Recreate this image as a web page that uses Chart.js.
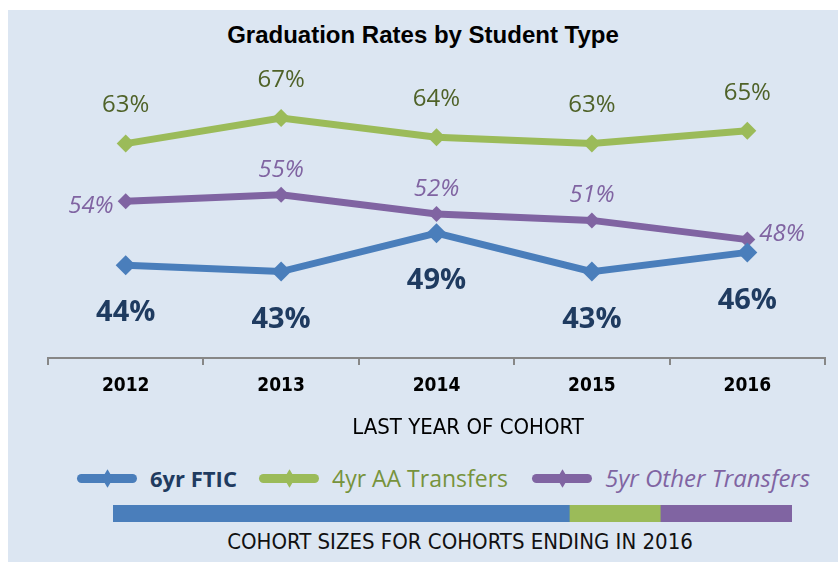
<!DOCTYPE html>
<html>
<head>
<meta charset="utf-8">
<script src="https://cdn.jsdelivr.net/npm/chart.js@4.4.1/dist/chart.umd.min.js"></script>
<style>
  body { margin: 0; width: 838px; height: 562px; background: #ffffff; overflow: hidden; position: relative; }
  #bg { position: absolute; left: 8px; top: 10px; right: 0; bottom: 0; background: #dce6f2; }
  #title { position: absolute; left: 0; width: 846px; top: 21px; line-height: 28px; text-align: center;
    font: bold 24px "Liberation Sans", Arial, sans-serif; color: #000; }
  #lines { position: absolute; left: 0; top: 0; }
  #xtitle { position: absolute; left: 268px; width: 400px; top: 414px; line-height: 26px; text-align: center;
    font: 22px "Liberation Sans Narrow", "DejaVu Sans Condensed", sans-serif; color: #000; }
  .item { position: absolute; top: 465px; height: 26px; }
  .swatch { position: absolute; top: 8.5px; width: 60px; height: 9px; border-radius: 5px; }
  .swatch::after { content: ""; position: absolute; left: 23.5px; top: -2px; width: 13px; height: 13px;
    background: inherit; transform: scaleX(0.6) rotate(45deg); }
  .label { position: absolute; left: 73px; top: 0; line-height: 26px; white-space: nowrap;
    font-family: "Open Sans", sans-serif; font-size: 22px; }
  #cohort { position: absolute; left: 113px; top: 505px; }
  #caption { position: absolute; left: 210px; width: 500px; top: 529px; line-height: 26px; text-align: center;
    font: 22px "Liberation Sans Narrow", "DejaVu Sans Condensed", sans-serif; color: #111; }
</style>
</head>
<body>
<div id="bg"></div>
<div id="title">Graduation Rates by Student Type</div>
<canvas id="lines" width="838" height="450"></canvas>
<div id="xtitle">LAST YEAR OF COHORT</div>
<div id="legend"></div>
<canvas id="cohort" width="679" height="17"></canvas>
<div id="caption">COHORT SIZES FOR COHORTS ENDING IN 2016</div>

<script>
const years = [`2012`, `2013`, `2014`, `2015`, `2016`];
const seriesNames = [`6yr FTIC`, `4yr AA Transfers`, `5yr Other Transfers`];
const ftic = [44, 43, 49, 43, 46];
const aaTransfers = [63, 67, 64, 63, 65];
const otherTransfers = [54, 55, 52, 51, 48];
// share of the 2016 cohort, in percent
const cohortShare = [67.2, 13.4, 19.4];

const BLUE = `#4a7ebb`;
const GREEN = `#9bbb59`;
const PURPLE = `#8064a2`;
const lineColors = [BLUE, GREEN, PURPLE];
const textColors = [`#1f3b60`, `#77933c`, `#8064a2`];

// value labels next to each point
const pointLabels = {
  id: `pointLabels`,
  afterDatasetsDraw(chart) {
    const ctx = chart.ctx;
    chart.data.datasets.forEach((ds, i) => {
      const meta = chart.getDatasetMeta(i);
      const lab = ds.labelStyle;
      ctx.save();
      ctx.font = lab.font;
      ctx.fillStyle = lab.color;
      ctx.textBaseline = `middle`;
      meta.data.forEach((pt, j) => {
        let x = pt.x;
        let y = pt.y;
        let align = `center`;
        const place = lab.place[j];
        if (place === `top`) {
          y -= lab.gap;
        } else if (place === `bottom`) {
          y += lab.gap;
        } else if (place === `left`) {
          x -= lab.side;
          align = `right`;
          y += lab.leftDy;
        } else if (place === `right`) {
          x += lab.side;
          align = `left`;
          y += lab.rightDy;
        }
        ctx.textAlign = align;
        ctx.fillText(ds.data[j] + `%`, x, y);
      });
      ctx.restore();
    });
  }
};

const lineSet = (label, data, color, radius, labelStyle) => ({
  label,
  data,
  borderColor: color,
  backgroundColor: color,
  borderWidth: 7,
  tension: 0,
  pointStyle: `rectRot`,
  pointRadius: radius,
  pointHoverRadius: radius,
  pointBorderWidth: 0,
  labelStyle,
});

new Chart(document.getElementById(`lines`), {
  type: `line`,
  plugins: [pointLabels],
  data: {
    labels: years,
    datasets: [
      lineSet(seriesNames[0], ftic, BLUE, 10, {
        font: `bold 29px "Open Sans", sans-serif`, color: `#1f3b60`,
        place: [`bottom`, `bottom`, `bottom`, `bottom`, `bottom`], gap: 48, side: 0, leftDy: 0, rightDy: 0,
      }),
      lineSet(seriesNames[1], aaTransfers, GREEN, 9, {
        font: `24px "Open Sans", sans-serif`, color: `#4f6228`,
        place: [`top`, `top`, `top`, `top`, `top`], gap: 38, side: 0, leftDy: 0, rightDy: 0,
      }),
      lineSet(seriesNames[2], otherTransfers, PURPLE, 8, {
        font: `italic 24px "Open Sans", sans-serif`, color: `#8064a2`,
        place: [`left`, `top`, `top`, `top`, `right`], gap: 25, side: 12, leftDy: 5, rightDy: -5,
      }),
    ]
  },
  options: {
    responsive: false,
    animation: false,
    layout: {
      padding: {top: 70, left: 48, right: 13, bottom: 0}
    },
    plugins: {
      legend: {display: false},
      tooltip: {enabled: false},
      title: {display: false},
    },
    scales: {
      x: {
        offset: true,
        afterFit: (scale) => {
          scale.height = 92;
        },
        grid: {
          display: true,
          offset: true,
          drawOnChartArea: false,
          drawTicks: true,
          tickLength: 7,
          color: `#878787`,
          lineWidth: 2,
        },
        border: {
          display: true,
          color: `#878787`,
          width: 2,
        },
        ticks: {
          color: `#000000`,
          padding: 10,
          font: {family: `"Liberation Sans Narrow", "DejaVu Sans Condensed", sans-serif`, size: 19, weight: `bold`},
        },
      },
      y: {
        display: false,
        min: 29.5,
        max: 74.5,
      },
    }
  }
});

// legend
const legend = document.getElementById(`legend`);
const legendLeft = [77, 259, 532];
const legendStyle = [`bold`, `normal`, `italic`];
const legendSize = [22, 23, 24];
seriesNames.forEach((name, i) => {
  const item = document.createElement(`div`);
  item.className = `item`;
  item.style.left = legendLeft[i] + `px`;
  const sw = document.createElement(`div`);
  sw.className = `swatch`;
  sw.style.background = lineColors[i];
  const tx = document.createElement(`div`);
  tx.className = `label`;
  tx.textContent = name;
  tx.style.color = textColors[i];
  tx.style.fontSize = legendSize[i] + `px`;
  if (legendStyle[i] === `bold`) tx.style.fontWeight = `bold`;
  if (legendStyle[i] === `italic`) tx.style.fontStyle = `italic`;
  item.appendChild(sw);
  item.appendChild(tx);
  legend.appendChild(item);
});

// cohort size bar
new Chart(document.getElementById(`cohort`), {
  type: `bar`,
  data: {
    labels: [`2016`],
    datasets: seriesNames.map((name, i) => ({
      label: name,
      data: [cohortShare[i]],
      backgroundColor: lineColors[i],
      borderWidth: 0,
      barPercentage: 1,
      categoryPercentage: 1,
    }))
  },
  options: {
    indexAxis: `y`,
    responsive: false,
    animation: false,
    layout: {padding: 0},
    plugins: {
      legend: {display: false},
      tooltip: {enabled: false},
    },
    scales: {
      x: {stacked: true, display: false, min: 0, max: 100},
      y: {stacked: true, display: false},
    }
  }
});
</script>
</body>
</html>
